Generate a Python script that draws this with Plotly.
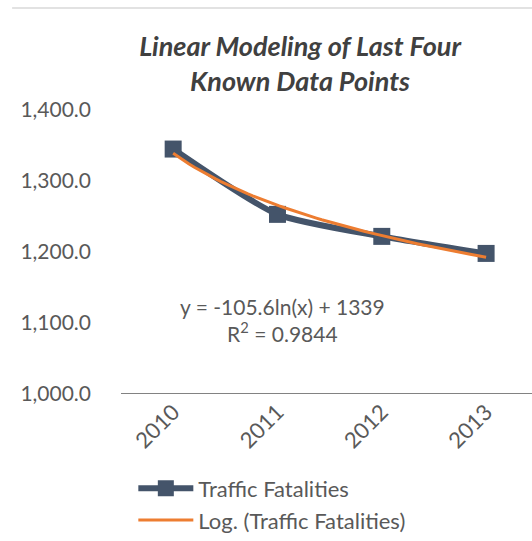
import plotly.graph_objects as go
import numpy as np

years = ["2010", "2011", "2012", "2013"]
fatalities = [1345, 1253, 1222, 1198]
# Excel logarithmic trendline coefficients (as displayed)
trend_a = -105.6
trend_b = 1339
r_squared = 0.9844
y_ticks = [1000, 1100, 1200, 1300, 1400]
y_tick_labels = ["1,000.0", "1,100.0", "1,200.0", "1,300.0", "1,400.0"]

FONT = "Lato"
GRAY = "#595959"

x_idx = np.arange(len(years))
xs = np.linspace(0, len(years) - 1, 60)
trend_y = trend_a * np.log(xs + 1) + trend_b

fig = go.Figure()
fig.add_trace(go.Scatter(
    x=x_idx, y=fatalities, mode="lines+markers", name="Traffic Fatalities",
    line=dict(color="#44546A", width=6, shape="spline", smoothing=0.6),
    marker=dict(symbol="square", size=17, color="#44546A"),
))
fig.add_trace(go.Scatter(
    x=xs, y=trend_y, mode="lines", name="Log. (Traffic Fatalities)",
    line=dict(color="#ED7D31", width=3),
))

fig.add_annotation(
    x=1.05, y=1104, xref="x", yref="y", showarrow=False,
    text=f"y = {trend_a}ln(x) + {trend_b}<br>R<sup>2</sup> = {r_squared}",
    font=dict(family=FONT, size=21, color=GRAY), align="center",
)

fig.add_shape(type="line", xref="paper", yref="paper", x0=-0.265, x1=1.0,
              y0=1.359, y1=1.359, line=dict(color="#D9D9D9", width=1.5))

fig.update_layout(
    width=532, height=541,
    margin=dict(l=121, r=0, t=110, b=147, autoexpand=False),
    paper_bgcolor="white", plot_bgcolor="white",
    title=dict(text="<b><i>Linear Modeling of Last Four<br>Known Data Points</i></b>",
               x=0.564, xanchor="center", y=0.896, yanchor="top",
               font=dict(family=FONT, size=27, color="#404040")),
    showlegend=True,
    legend=dict(x=0.03, y=-0.259, xanchor="left", yanchor="top",
                font=dict(family=FONT, size=22, color=GRAY),
                bgcolor="rgba(0,0,0,0)", tracegroupgap=0, itemwidth=55),
    xaxis=dict(range=[-0.5, 3.44], tickmode="array", tickvals=list(x_idx), ticktext=years,
               tickangle=-45, showgrid=False, zeroline=False, showline=False,
               automargin=False,
               tickfont=dict(family=FONT, size=22, color=GRAY), ticks=""),
    yaxis=dict(range=[1000, 1400], tickmode="array", tickvals=y_ticks, ticktext=y_tick_labels,
               showgrid=False, zeroline=False, showline=False, ticks="",
               ticklabelstandoff=29, automargin=False,
               tickfont=dict(family=FONT, size=21, color=GRAY)),
)
fig.add_shape(type="line", xref="paper", yref="y", x0=0, x1=1, y0=1000, y1=1000,
              line=dict(color="#595959", width=1.5))

fig.write_html("out.html", config={"displayModeBar": False},
               post_script="document.body.style.margin='0';")
